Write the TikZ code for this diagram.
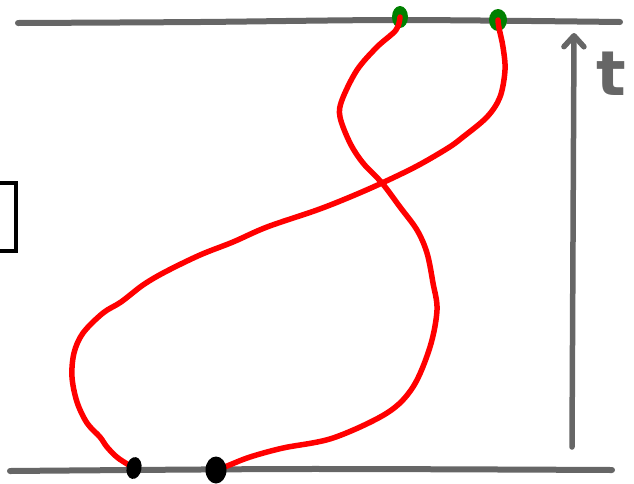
\documentclass[tikz,border=0pt]{standalone}
\usepackage{fontspec}
\setsansfont{DejaVu Sans}
\usetikzlibrary{shapes.geometric,arrows.meta}
\definecolor{lgray}{HTML}{666666}
\definecolor{dgreen}{HTML}{008000}
\tikzset{
  timeline/.style={draw=lgray,line width=6pt,line cap=round},
  worldline/.style={draw=red,line width=5.5pt,line cap=round,line join=round},
  greendot/.style={ellipse,fill=dgreen,inner sep=0pt,minimum width=16pt,minimum height=22pt},
  blackdot/.style={ellipse,fill=black,inner sep=0pt},
  timearrow/.style={draw=lgray,line width=5.5pt,line cap=round,-{Straight Barb[round,length=11pt,width=20pt]}},
}
\begin{document}
\begin{tikzpicture}[x=1pt,y=-1pt]
\useasboundingbox (0,0) rectangle (634,483);
% box at left edge
\draw[line width=4.5pt] (-10,183) rectangle (16,251);
% time lines
\draw[timeline] plot[smooth] coordinates {(18,23) (200,22) (400,20) (620,22)};
\draw[timeline] plot[smooth] coordinates {(10,471) (300,469) (612,470)};
% time arrow
\coordinate (tb) at (572,447);
\coordinate (tt) at (574,33);
\draw[timearrow] (tb) -- (tt);
\node[text=lgray,font=\sffamily\bfseries\fontsize{62}{62}\selectfont,inner sep=0pt] (tlabel) at (611,74) {t};
% end points
\node[greendot] (g1) at (400,17) {};
\node[greendot,minimum width=18pt] (g2) at (498,20) {};
\coordinate (b1) at (134,468);
\coordinate (b2) at (216,470);
% world lines
\draw[worldline] plot[smooth,tension=0.55] coordinates {(b1) (118,458) (107,447) (100,437) (87,423) (77,402) (72,377) (74,353) (83,333) (103,313) (121,302) (143,285) (165,272) (200,255) (233,242) (267,227) (317,210) (350,197) (382,183) (417,166) (448,148) (463,137) (487,117) (500,97) (505,70) (503,47) (499,28) (g2.center)};
\draw[worldline] plot[smooth,tension=0.55] coordinates {(b2) (227,466) (250,457) (283,448) (333,438) (387,413) (413,387) (430,347) (437,310) (433,283) (427,253) (417,230) (400,207) (382,183) (363,163) (350,143) (340,117) (342,100) (357,70) (377,47) (396,30) (g1.center)};
% black dots
\node[blackdot,minimum width=15pt,minimum height=22pt,rotate=-10] (d1) at (b1) {};
\node[blackdot,minimum width=21pt,minimum height=27pt] (d2) at (b2) {};
\end{tikzpicture}
\end{document}
